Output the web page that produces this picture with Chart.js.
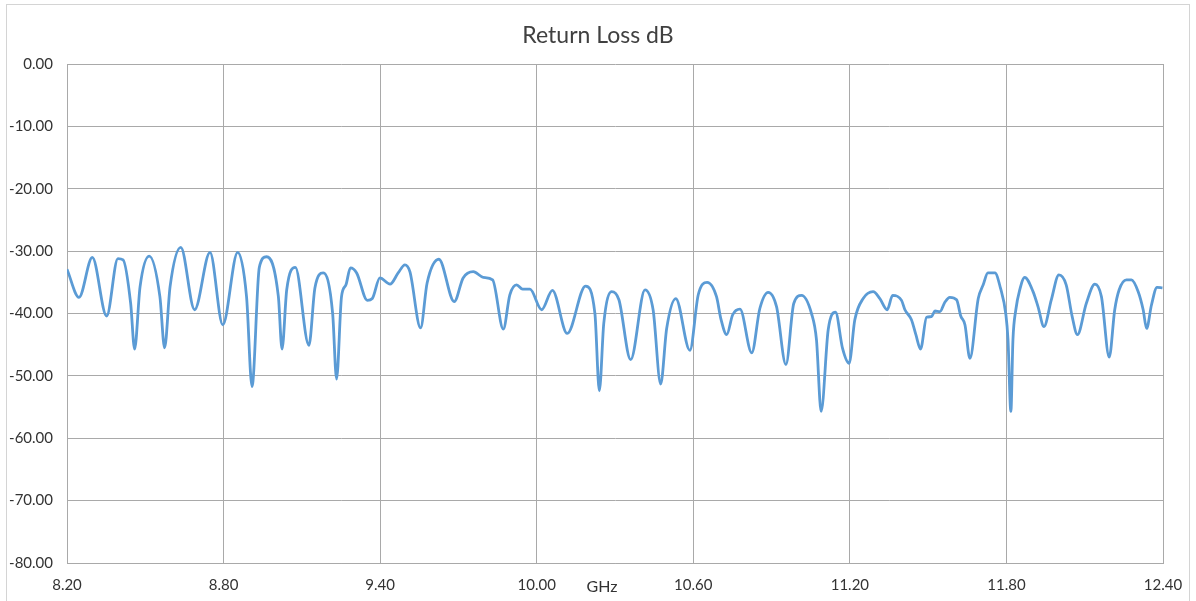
<!DOCTYPE html>
<html>
<head>
<meta charset="utf-8">
<title>Return Loss dB</title>
<script src="https://cdn.jsdelivr.net/npm/chart.js@4.4.1/dist/chart.umd.min.js"></script>
<style>
  html, body { margin: 0; padding: 0; background: #fff; }
  #wrap { width: 1196px; height: 601px; position: relative; }
</style>
</head>
<body>
<div id="wrap"><canvas id="rlChart" width="1196" height="601"></canvas></div>
<script>
// Frequency points (GHz)
const freqGHz = [
  8.200, 8.246, 8.297, 8.352, 8.395, 8.415, 8.444, 8.459, 8.480, 8.515,
  8.556, 8.574, 8.595, 8.636, 8.689, 8.748, 8.797, 8.854, 8.888, 8.909,
  8.937, 8.965, 9.010, 9.024, 9.042, 9.075, 9.127, 9.150, 9.182, 9.218,
  9.233, 9.252, 9.269, 9.286, 9.310, 9.351, 9.370, 9.399, 9.438, 9.469,
  9.495, 9.514, 9.555, 9.580, 9.625, 9.684, 9.718, 9.757, 9.795, 9.831,
  9.872, 9.897, 9.923, 9.946, 9.974, 10.019, 10.060, 10.117, 10.187, 10.223,
  10.240, 10.257, 10.287, 10.315, 10.360, 10.415, 10.446, 10.475, 10.498, 10.533,
  10.587, 10.619, 10.653, 10.689, 10.706, 10.728, 10.751, 10.779, 10.824, 10.855,
  10.887, 10.919, 10.955, 10.985, 11.015, 11.053, 11.072, 11.090, 11.117, 11.145,
  11.172, 11.197, 11.219, 11.251, 11.289, 11.315, 11.343, 11.364, 11.398, 11.411,
  11.436, 11.453, 11.471, 11.494, 11.513, 11.526, 11.545, 11.564, 11.583, 11.609,
  11.625, 11.641, 11.660, 11.692, 11.711, 11.729, 11.756, 11.777, 11.798, 11.806,
  11.817, 11.825, 11.836, 11.851, 11.870, 11.902, 11.921, 11.944, 11.972, 12.001,
  12.029, 12.052, 12.072, 12.106, 12.139, 12.164, 12.194, 12.215, 12.232, 12.260,
  12.279, 12.305, 12.324, 12.337, 12.356, 12.377, 12.398
];

// Return loss (dB) at each frequency point
const returnLossDb = [
  -32.9, -37.4, -31.0, -40.4, -31.2, -31.4, -38.4, -45.7, -35.7, -30.8,
  -37.3, -45.5, -35.7, -29.4, -39.4, -30.2, -41.8, -30.2, -37.3, -51.7,
  -32.6, -30.9, -37.3, -45.7, -36.2, -32.6, -45.1, -35.9, -33.5, -40.0,
  -50.5, -37.3, -35.4, -32.7, -33.5, -37.9, -37.6, -34.3, -35.3, -33.5,
  -32.2, -33.3, -42.3, -35.1, -31.3, -38.1, -34.3, -33.3, -34.2, -34.6,
  -42.5, -37.0, -35.4, -36.1, -36.1, -39.4, -36.3, -43.2, -35.6, -40.0,
  -52.4, -41.6, -36.5, -37.8, -47.4, -36.2, -39.4, -51.3, -42.4, -37.6,
  -45.9, -37.0, -35.0, -37.3, -40.9, -43.4, -40.2, -39.3, -46.3, -39.2,
  -36.6, -38.9, -48.2, -38.4, -37.1, -40.0, -44.2, -55.7, -42.6, -39.8,
  -45.6, -48.0, -41.0, -37.6, -36.5, -37.6, -39.4, -37.1, -37.9, -39.4,
  -41.0, -43.4, -45.7, -40.6, -40.5, -39.6, -39.7, -38.2, -37.4, -37.8,
  -40.4, -41.8, -47.2, -37.6, -35.4, -33.5, -33.5, -35.9, -40.2, -44.2,
  -55.7, -44.2, -39.4, -36.2, -34.2, -36.5, -38.9, -42.1, -37.8, -33.8,
  -35.4, -40.5, -43.4, -38.4, -35.3, -37.3, -47.0, -39.4, -36.2, -34.6,
  -34.6, -36.5, -39.4, -42.4, -38.6, -35.8, -35.9
];

// Axis ranges / tick spacing
const xMin = 8.2, xMax = 12.4, xStep = 0.6;
const yMin = -80, yMax = 0, yStep = 10;

const points = freqGHz.map((f, i) => ({ x: f, y: returnLossDb[i] }));

const gridGrey = '#a9a9a9';
const fontFamily = "Lato, 'Open Sans', sans-serif";

// white background, light outer frame and the GHz caption
const frame = {
  id: 'frame',
  beforeDraw(chart) {
    const c = chart.ctx;
    c.save();
    c.fillStyle = '#fff';
    c.fillRect(0, 0, chart.width, chart.height);
    c.strokeStyle = '#d4d4d4';
    c.lineWidth = 1;
    c.strokeRect(6.5, 4.5, chart.width - 13, chart.height + 10);
    c.restore();
  },
  afterDraw(chart) {
    const c = chart.ctx;
    const xs = chart.scales.x;
    c.save();
    c.font = '16px ' + fontFamily;
    c.fillStyle = '#333';
    c.textAlign = 'center';
    c.textBaseline = 'middle';
    c.fillText('GHz', xs.getPixelForValue(10.25), chart.chartArea.bottom + 24);
    c.restore();
  }
};

new Chart(document.getElementById('rlChart').getContext('2d'), {
  type: 'line',
  data: {
    datasets: [{
      label: 'Return Loss dB',
      data: points,
      borderColor: '#5b9bd5',
      borderWidth: 2.8,
      pointRadius: 0,
      fill: false,
      cubicInterpolationMode: 'monotone'
    }]
  },
  options: {
    responsive: false,
    animation: false,
    layout: { padding: 0 },
    plugins: {
      legend: { display: false },
      tooltip: { enabled: false },
      title: {
        display: true,
        text: 'Return Loss dB',
        color: '#404040',
        font: { family: fontFamily, size: 23, weight: 'normal', lineHeight: 1.2 },
        padding: { top: 22, bottom: 14.4 }
      }
    },
    scales: {
      x: {
        type: 'linear',
        min: xMin,
        max: xMax,
        afterFit(scale) { scale.height = 38; },
        ticks: {
          stepSize: xStep,
          color: '#333',
          padding: 13,
          maxRotation: 0,
          font: { family: fontFamily, size: 15 },
          callback: v => v.toFixed(2)
        },
        grid: { color: gridGrey, drawTicks: false },
        border: { color: gridGrey }
      },
      y: {
        min: yMin,
        max: yMax,
        afterFit(scale) { scale.width = 67; },
        ticks: {
          stepSize: yStep,
          color: '#333',
          padding: 14,
          font: { family: fontFamily, size: 15 },
          callback: v => v.toFixed(2)
        },
        grid: { color: gridGrey, drawTicks: false },
        border: { color: gridGrey }
      },
      // empty spacer on the right so the plot ends where the reference does
      spacer: {
        position: 'right',
        min: yMin,
        max: yMax,
        afterFit(scale) { scale.width = 33; },
        ticks: { display: false },
        grid: { display: false },
        border: { display: false }
      }
    }
  },
  plugins: [frame]
});
</script>
</body>
</html>
